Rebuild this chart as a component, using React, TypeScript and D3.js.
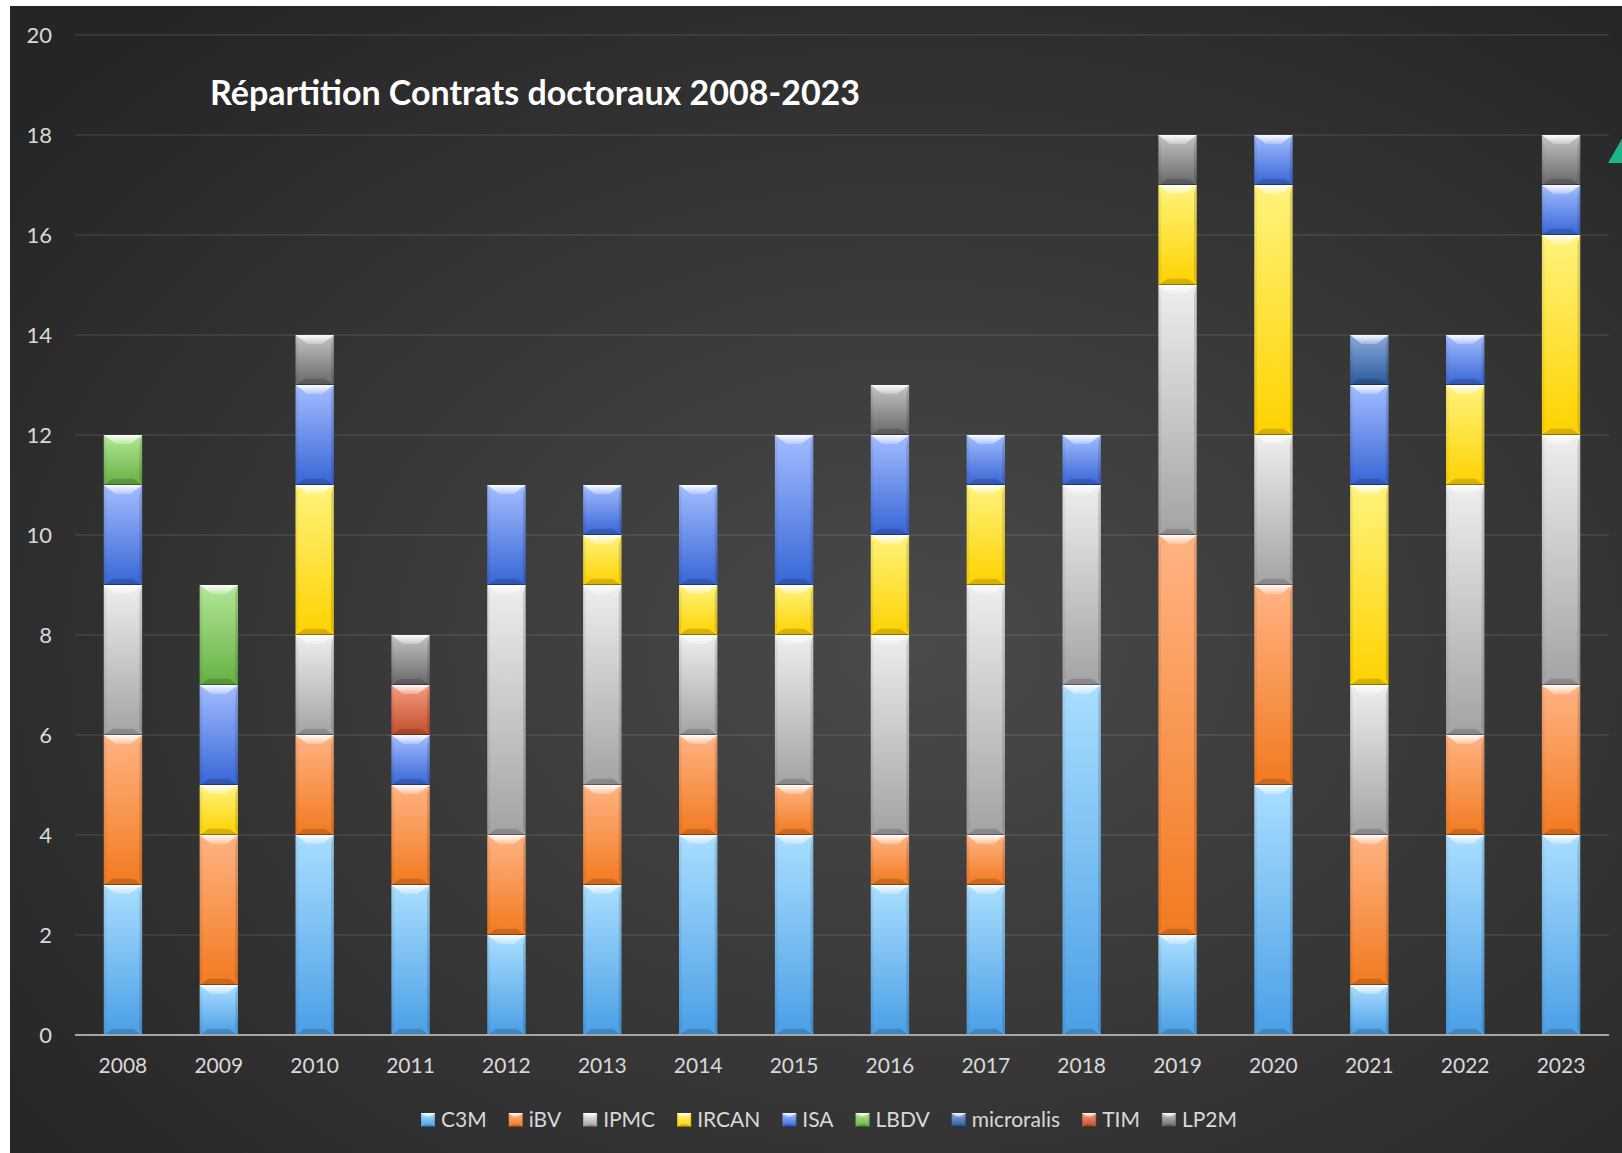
import * as d3 from 'd3';
import React, { useEffect, useRef } from 'react';

const years = ['2008', '2009', '2010', '2011', '2012', '2013', '2014', '2015',
  '2016', '2017', '2018', '2019', '2020', '2021', '2022', '2023'];
const labs = ['C3M', 'iBV', 'IPMC', 'IRCAN', 'ISA', 'LBDV', 'microralis', 'TIM', 'LP2M'];

const c3m = [3, 1, 4, 3, 2, 3, 4, 4, 3, 3, 7, 2, 5, 1, 4, 4];
const ibv = [3, 3, 2, 2, 2, 2, 2, 1, 1, 1, 0, 8, 4, 3, 2, 3];
const ipmc = [3, 0, 2, 0, 5, 4, 2, 3, 4, 5, 4, 5, 3, 3, 5, 5];
const ircan = [0, 1, 3, 0, 0, 1, 1, 1, 2, 2, 0, 2, 5, 4, 2, 4];
const isa = [2, 2, 2, 1, 2, 1, 2, 3, 2, 1, 1, 0, 1, 2, 1, 1];
const lbdv = [1, 2, 0, 0, 0, 0, 0, 0, 0, 0, 0, 0, 0, 0, 0, 0];
const microralis = [0, 0, 0, 0, 0, 0, 0, 0, 0, 0, 0, 0, 0, 1, 0, 0];
const tim = [0, 0, 0, 1, 0, 0, 0, 0, 0, 0, 0, 0, 0, 0, 0, 0];
const lp2m = [0, 0, 1, 1, 0, 0, 0, 0, 1, 0, 0, 1, 0, 0, 0, 1];

const yTicks = [0, 2, 4, 6, 8, 10, 12, 14, 16, 18, 20];
const title = 'Répartition Contrats doctoraux 2008-2023';

// top / bottom colours of each series' gradient
const palette = [
  ['#aadeff', '#4a9fe6'],
  ['#ffb383', '#f27a20'],
  ['#eeeeee', '#a3a3a3'],
  ['#fff37c', '#ffd200'],
  ['#a2bcff', '#3866d6'],
  ['#b2e796', '#66b043'],
  ['#88aadc', '#2c5a9a'],
  ['#f69a7e', '#c24f2d'],
  ['#c4c4c4', '#686868'],
];

const W = 1622;
const H = 1153;
const FONT = 'Lato, "Open Sans", sans-serif';

export default function App() {
  const svgRef = useRef<SVGSVGElement>(null);
  useEffect(() => {
    if (svgRef.current) renderChart(svgRef.current);
  }, []);
  return (
    <svg
      ref={svgRef}
      width={W}
      height={H}
      style={{ position: 'absolute', left: 0, top: 0, display: 'block' }}
    />
  );
}

type Sel = d3.Selection<SVGGElement, unknown, null, undefined>;

function bevel(g: Sel, x: number, y: number, w: number, h: number, idx: number, bv: number) {
  const b = Math.min(bv, h / 2, w / 2);
  g.append('rect')
    .attr('x', x).attr('y', y).attr('width', w).attr('height', h)
    .attr('fill', `url(#grad${idx})`);
  g.append('polygon')
    .attr('points', `${x},${y} ${x + w},${y} ${x + w - b * 1.3},${y + b} ${x + b * 1.3},${y + b}`)
    .attr('fill', 'url(#btop)');
  g.append('polygon')
    .attr('points', `${x},${y + h} ${x + w},${y + h} ${x + w - b},${y + h - b * 0.7} ${x + b},${y + h - b * 0.7}`)
    .attr('fill', '#000').attr('fill-opacity', 0.16);
  g.append('polygon')
    .attr('points', `${x},${y} ${x + b * 0.3},${y + b} ${x + b * 0.3},${y + h - b * 0.7} ${x},${y + h}`)
    .attr('fill', '#000').attr('fill-opacity', 0.06);
  g.append('polygon')
    .attr('points', `${x + w},${y} ${x + w - b * 0.3},${y + b} ${x + w - b * 0.3},${y + h - b * 0.7} ${x + w},${y + h}`)
    .attr('fill', '#000').attr('fill-opacity', 0.14);
  g.append('line')
    .attr('x1', x).attr('x2', x + w).attr('y1', y + h - 0.5).attr('y2', y + h - 0.5)
    .attr('stroke', '#000').attr('stroke-opacity', 0.35).attr('stroke-width', 1);
}

function renderChart(el: SVGSVGElement) {
  const svg = d3.select(el);
  svg.selectAll('*').remove();

  const defs = svg.append('defs');
  const bg = defs.append('radialGradient').attr('id', 'bg')
    .attr('cx', 0.56).attr('cy', 0.56).attr('r', 0.72);
  bg.append('stop').attr('offset', 0).attr('stop-color', '#4a4a4a');
  bg.append('stop').attr('offset', 1).attr('stop-color', '#252525');

  palette.forEach((c, i) => {
    const lg = defs.append('linearGradient').attr('id', `grad${i}`)
      .attr('x1', 0).attr('x2', 0).attr('y1', 0).attr('y2', 1);
    lg.append('stop').attr('offset', 0).attr('stop-color', c[0]);
    lg.append('stop').attr('offset', 1).attr('stop-color', c[1]);
  });
  const bt = defs.append('linearGradient').attr('id', 'btop')
    .attr('x1', 0).attr('x2', 0).attr('y1', 0).attr('y2', 1);
  bt.append('stop').attr('offset', 0).attr('stop-color', '#fff').attr('stop-opacity', 0.95);
  bt.append('stop').attr('offset', 1).attr('stop-color', '#fff').attr('stop-opacity', 0.25);

  // page + chart panel
  svg.append('rect').attr('width', W).attr('height', H).attr('fill', '#fff');
  svg.append('rect').attr('x', 10).attr('y', 6).attr('width', W - 10).attr('height', H - 6)
    .attr('fill', 'url(#bg)');

  const x = d3.scaleBand().domain(years).range([75, 1609]).paddingInner(0.6).paddingOuter(0.3);
  const y = d3.scaleLinear().domain([0, 20]).range([1035, 35]);

  // grid
  svg.append('g').selectAll('line').data(yTicks.filter(t => t > 0)).join('line')
    .attr('x1', 75).attr('x2', 1609)
    .attr('y1', d => y(d)).attr('y2', d => y(d))
    .attr('stroke', '#fff').attr('stroke-opacity', 0.1).attr('stroke-width', 1.5);

  svg.append('g').selectAll('text').data(yTicks).join('text')
    .attr('x', 52).attr('y', d => y(d)).attr('dy', '0.36em')
    .attr('text-anchor', 'end')
    .attr('fill', '#d9d9d9').style('font', `22px ${FONT}`)
    .text(d => d);

  // stacked bars
  const table = years.map((yr, j) => {
    const row: Record<string, number | string> = { year: yr };
    [c3m, ibv, ipmc, ircan, isa, lbdv, microralis, tim, lp2m].forEach((s, i) => { row[labs[i]] = s[j]; });
    return row;
  });
  const stacked = d3.stack<Record<string, number | string>>().keys(labs)(table);
  const bw = x.bandwidth();
  const bars = svg.append('g');
  stacked.forEach((layer, i) => {
    layer.forEach(d => {
      if (d[1] <= d[0]) return;
      const g = bars.append('g') as unknown as Sel;
      const top = y(d[1]);
      bevel(g, x(d.data.year as string) ?? 0, top, bw, y(d[0]) - top, i, 9);
    });
  });

  // zero axis
  svg.append('line').attr('x1', 75).attr('x2', 1609).attr('y1', y(0)).attr('y2', y(0))
    .attr('stroke', '#a6a6a6').attr('stroke-width', 2);

  svg.append('g').selectAll('text').data(years).join('text')
    .attr('x', d => (x(d) ?? 0) + bw / 2).attr('y', 1073)
    .attr('text-anchor', 'middle')
    .attr('fill', '#d9d9d9').style('font', `21px ${FONT}`)
    .text(d => d);

  // title
  svg.append('text').attr('x', 210).attr('y', 105)
    .attr('fill', '#fff').style('font', `bold 34px ${FONT}`)
    .text(title);

  // legend
  const leg = svg.append('g');
  let cx = 0;
  labs.forEach((lab, i) => {
    const it = leg.append('g').attr('transform', `translate(${cx},0)`) as unknown as Sel;
    bevel(it, 0, -14, 14, 14, i, 4);
    const t = it.append('text').attr('x', 20).attr('y', 0)
      .attr('fill', '#d9d9d9').style('font', `21px ${FONT}`).text(lab);
    const tw = (t.node() as SVGTextElement).getComputedTextLength();
    cx += 20 + tw + 22;
  });
  const legW = cx - 22;
  leg.attr('transform', `translate(${829 - legW / 2},1127)`);

  // cut-off shape at the right edge
  svg.append('polygon').attr('points', '1608,163 1630,125 1660,163').attr('fill', '#1db489');
}
